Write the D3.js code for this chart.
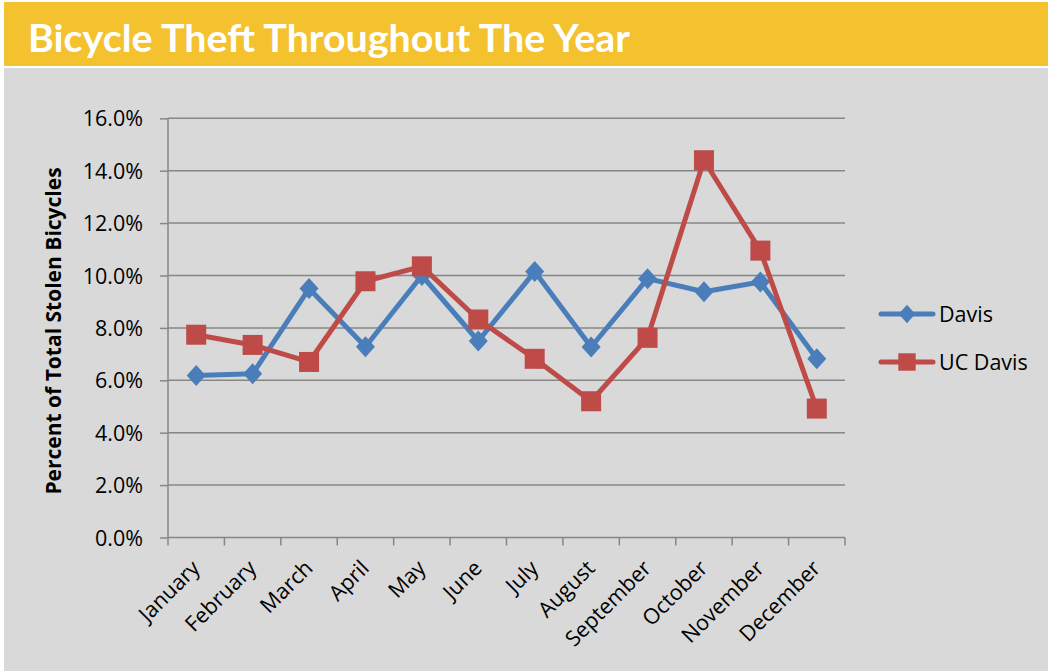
<!DOCTYPE html>
<html><head><meta charset="utf-8">
<script src="https://cdn.jsdelivr.net/npm/d3@7"></script>
<style>body{margin:0;background:#fff;}svg{display:block;}</style>
</head><body>
<script>
const months = ["January","February","March","April","May","June","July","August","September","October","November","December"];
const davis = [6.18, 6.25, 9.5, 7.28, 10.0, 7.5, 10.15, 7.27, 9.88, 9.38, 9.75, 6.82];
const ucDavis = [7.74, 7.35, 6.7, 9.78, 10.35, 8.32, 6.82, 5.2, 7.62, 14.4, 10.95, 4.92];
const yTicks = [0, 2, 4, 6, 8, 10, 12, 14, 16];
const seriesNames = ["Davis", "UC Davis"];
const title = "Bicycle Theft Throughout The Year";
const yTitle = "Percent of Total Stolen Bicycles";

const W = 1048, H = 671;
const svg = d3.select("body").append("svg").attr("width", W).attr("height", H);
svg.append("rect").attr("x",4).attr("y",2).attr("width",W-4).attr("height",64).attr("fill","#f4c22f");
svg.append("rect").attr("x",4).attr("y",68).attr("width",W-4).attr("height",H-68).attr("fill","#d9d9d9");

const t = svg.append("text").attr("x",28).attr("y",52).text(title)
  .attr("fill","#fff").attr("font-family","Lato, 'Open Sans', sans-serif")
  .attr("font-weight","bold").attr("font-size",38);
t.attr("textLength",602).attr("lengthAdjust","spacingAndGlyphs");

const x = d3.scaleBand().domain(months).range([168, 845]);
const y = d3.scaleLinear().domain([0,16]).range([537.5, 118.3]);
const font = "'Open Sans', 'Noto Sans', sans-serif";
const fs = 21.5;

// gridlines
svg.append("g").selectAll("line").data(yTicks.slice(1)).join("line")
  .attr("x1",168).attr("x2",845).attr("y1",d=>y(d)).attr("y2",d=>y(d))
  .attr("stroke","#868686").attr("stroke-width",1.5);

const yAxis = svg.append("g").attr("transform","translate(168,0)")
  .call(d3.axisLeft(y).tickValues(yTicks).tickSize(8).tickPadding(17).tickFormat(d=>d.toFixed(1)+"%"));
yAxis.select(".domain").attr("stroke","#868686").attr("stroke-width",1.5).attr("d","M0,118.3V537.5");
yAxis.selectAll(".tick line").attr("stroke","#868686").attr("stroke-width",1.5);
yAxis.selectAll("text").attr("font-family",font).attr("font-size",fs).attr("fill","#000").attr("dy","0.35em");

const xAxis = svg.append("g").attr("transform","translate(0,537.5)")
  .call(d3.axisBottom(x).tickSize(0).tickFormat(""));
xAxis.select(".domain").attr("stroke","#868686").attr("stroke-width",1.5).attr("d","M168,0H845");
const bounds = months.map(m=>x(m)).concat([845]);
xAxis.append("g").selectAll("line").data(bounds).join("line")
  .attr("x1",d=>d).attr("x2",d=>d).attr("y1",0).attr("y2",8)
  .attr("stroke","#868686").attr("stroke-width",1.5);
xAxis.append("g").selectAll("text").data(months).join("text")
  .attr("transform",d=>`translate(${x(d)+x.bandwidth()/2+5},32) rotate(-45)`)
  .attr("text-anchor","end").attr("font-family",font).attr("font-size",fs).attr("fill","#000")
  .text(d=>d);

svg.append("text").attr("transform","translate(61,331) rotate(-90)")
  .attr("text-anchor","middle").attr("font-family",font).attr("font-weight","bold")
  .attr("font-size",21).attr("fill","#000").text(yTitle);

const cx = m => x(m) + x.bandwidth()/2;
const line = d3.line().x((d,i)=>cx(months[i])).y(d=>y(d));
const colors = ["#4a7ebb", "#be4b48"];
const datasets = [davis, ucDavis];

function marker(g, kind, color, s) {
  if (kind === 0) {
    const w = 9.5*s, h = 10.5*s;
    g.append("path").attr("d", `M0,${-h}L${w},0L0,${h}L${-w},0Z`).attr("fill", color);
  } else {
    const a = 10*s;
    g.append("rect").attr("x",-a).attr("y",-a).attr("width",2*a).attr("height",2*a).attr("fill",color);
  }
}

datasets.forEach((ds, k) => {
  svg.append("path").datum(ds).attr("d", line).attr("fill","none")
    .attr("stroke", colors[k]).attr("stroke-width",5).attr("stroke-linejoin","round");
  svg.append("g").selectAll("g").data(ds).join("g")
    .attr("transform",(d,i)=>`translate(${cx(months[i])},${y(d)})`)
    .each(function(){ marker(d3.select(this), k, colors[k], 1); });
});

// legend
seriesNames.forEach((name, k) => {
  const ly = 314 + k*48;
  svg.append("line").attr("x1",881).attr("x2",933).attr("y1",ly).attr("y2",ly)
    .attr("stroke",colors[k]).attr("stroke-width",5).attr("stroke-linecap","round");
  const g = svg.append("g").attr("transform",`translate(907,${ly})`);
  marker(g, k, colors[k], 0.87);
  svg.append("text").attr("x",939).attr("y",ly).attr("dy","0.35em")
    .attr("font-family",font).attr("font-size",fs).attr("fill","#000").text(name);
});
</script>
</body></html>
